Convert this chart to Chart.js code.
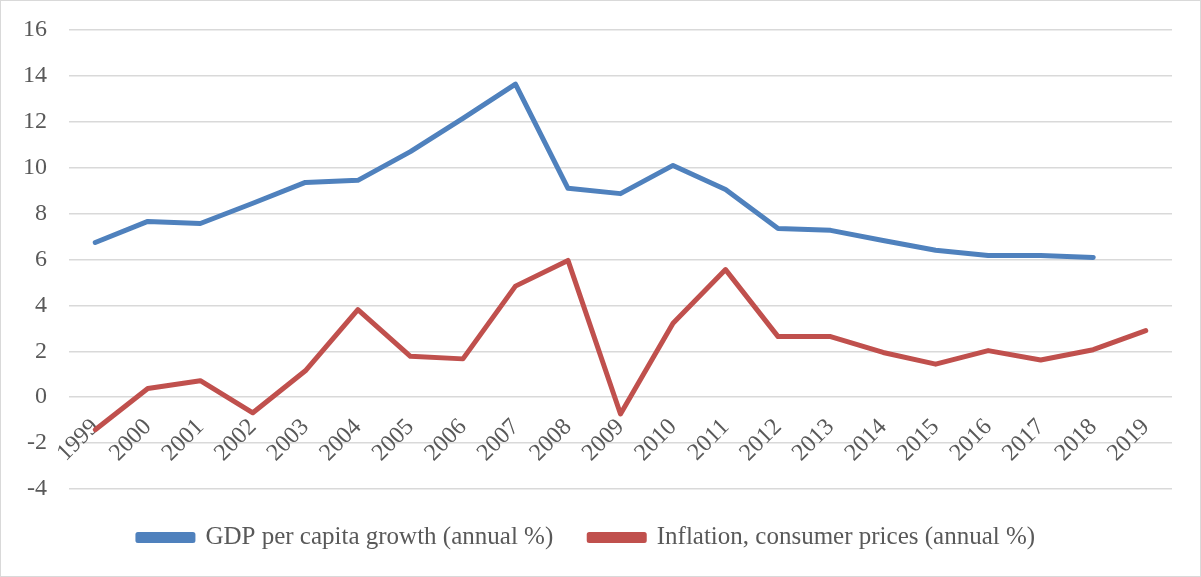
<!DOCTYPE html>
<html>
<head>
<meta charset="utf-8">
<script src="https://cdn.jsdelivr.net/npm/chart.js@4.4.1/dist/chart.umd.min.js"></script>
<style>
  html, body { margin: 0; padding: 0; background: #fff; }
  #wrap { width: 1199px; height: 575px; border: 1px solid #d9d9d9; position: relative; }
</style>
</head>
<body>
<div id="wrap"><canvas id="myChart"></canvas></div>
<script>
// Years on the category axis
const years = ['1999', '2000', '2001', '2002', '2003', '2004', '2005', '2006', '2007', '2008',
    '2009', '2010', '2011', '2012', '2013', '2014', '2015', '2016', '2017', '2018', '2019'];

// GDP per capita growth (annual %), no value for 2019
const gdpGrowth = [6.74, 7.66, 7.57, 8.45, 9.36, 9.45, 10.7, 12.15, 13.64, 9.1,
    8.87, 10.1, 9.05, 7.35, 7.27, 6.83, 6.4, 6.17, 6.17, 6.09, null];

// Inflation, consumer prices (annual %)
const inflation = [-1.42, 0.38, 0.72, -0.68, 1.15, 3.82, 1.78, 1.67, 4.84, 5.96,
    -0.73, 3.22, 5.56, 2.64, 2.64, 1.95, 1.44, 2.03, 1.62, 2.07, 2.9];

const seriesNames = ['GDP per capita growth (annual %)', 'Inflation, consumer prices (annual %)'];

const fontFamily = '"Liberation Serif", "DejaVu Serif", serif';
const textColor = '#595959';

const ctx = document.getElementById('myChart').getContext('2d');
const chart = new Chart(ctx, {
    type: 'line',
    data: {
        labels: years,
        datasets: [
            {
                label: seriesNames[0],
                data: gdpGrowth,
                borderColor: '#4f81bd',
                backgroundColor: '#4f81bd',
                borderWidth: 5,
                borderCapStyle: 'round',
                borderJoinStyle: 'round',
                pointRadius: 0,
                fill: false
            },
            {
                label: seriesNames[1],
                data: inflation,
                borderColor: '#c0504d',
                backgroundColor: '#c0504d',
                borderWidth: 5,
                borderCapStyle: 'round',
                borderJoinStyle: 'round',
                pointRadius: 0,
                fill: false
            }
        ]
    },
    options: {
        responsive: true,
        maintainAspectRatio: false,
        animation: false,
        layout: {
            padding: { top: 29, right: 28, bottom: 16, left: 0 }
        },
        plugins: {
            tooltip: { enabled: false },
            legend: {
                position: 'bottom',
                maxHeight: 72,
                labels: {
                    boxWidth: 55,
                    boxHeight: 6,
                    padding: 36,
                    color: textColor,
                    font: { family: fontFamily, size: 25 }
                }
            }
        },
        scales: {
            x: {
                position: { y: 0 },
                offset: true,
                grid: { display: false, drawTicks: false },
                border: { display: false },
                ticks: {
                    autoSkip: false,
                    minRotation: 45,
                    maxRotation: 45,
                    padding: 16,
                    color: textColor,
                    font: { family: fontFamily, size: 24 }
                }
            },
            y: {
                min: -4,
                max: 16,
                // fixed axis width, and no extra room above the top label
                afterFit: scale => {
                    scale.width = 68;
                    scale.paddingTop = 0;
                    scale.paddingBottom = 0;
                },
                grid: { color: '#d9d9d9', lineWidth: 1.5, drawTicks: false },
                border: { display: false },
                ticks: {
                    stepSize: 2,
                    padding: 22,
                    color: textColor,
                    font: { family: fontFamily, size: 24 }
                }
            }
        }
    }
});
</script>
</body>
</html>
